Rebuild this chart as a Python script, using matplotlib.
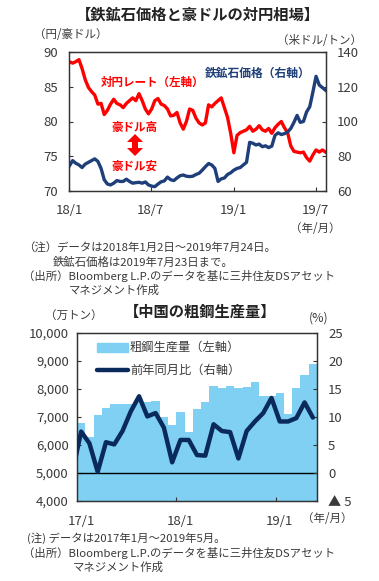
'''
Iron ore vs AUD/JPY, and China crude steel production
'''
import numpy as np
import pandas as pd
import matplotlib
matplotlib.use("Agg")
import matplotlib.pyplot as plt
from matplotlib.transforms import Affine2D

plt.rcParams['font.family'] = ['Noto Sans CJK JP', 'DejaVu Sans']

# ---- top chart data (weekly readings, 2018/1/2 - 2019/7/23) ----
week_start = "2018-01-02"
aud_jpy = [88.6, 88.4, 88.6, 88.9, 87.6, 86.0, 84.9, 84.3, 83.8, 82.5,
           82.6, 81.0, 81.6, 82.5, 83.2, 82.6, 82.4, 82.0, 82.6, 83.0,
           83.4, 83.0, 84.0, 83.0, 81.8, 81.1, 81.8, 83.0, 83.3, 82.5,
           82.3, 81.8, 80.8, 80.9, 81.3, 79.8, 78.9, 80.0, 81.8, 81.6,
           80.5, 79.8, 79.5, 79.8, 82.4, 82.1, 82.6, 83.0, 83.4, 82.0,
           80.6, 78.3, 75.5, 78.0, 78.4, 78.6, 78.8, 79.3, 78.6, 78.9,
           79.4, 78.8, 78.6, 79.0, 78.3, 79.1, 79.6, 80.0, 79.1, 78.4,
           76.5, 75.7, 75.6, 75.5, 75.6, 74.8, 74.3, 75.2, 75.9, 75.6,
           75.9, 75.6]
iron_ore = [74.5, 77.5, 76.0, 75.0, 73.5, 75.5, 76.5, 77.5, 78.5, 77.0,
            73.0, 66.5, 64.0, 63.5, 64.5, 66.0, 65.5, 65.5, 66.8, 65.5,
            64.5, 64.8, 65.0, 64.5, 65.2, 63.5, 62.8, 62.5, 64.0, 65.3,
            65.8, 68.0, 66.5, 66.0, 67.5, 68.8, 69.2, 68.5, 68.3, 68.5,
            69.5, 70.2, 72.0, 74.0, 75.8, 75.0, 73.0, 65.5, 67.0, 67.5,
            69.5, 70.5, 72.0, 73.0, 73.5, 75.0, 76.5, 88.0, 87.5, 86.5,
            87.0, 85.5, 86.0, 85.0, 85.8, 92.0, 93.5, 92.5, 93.0, 94.0,
            96.0, 99.5, 103.5, 99.5, 100.0, 105.5, 108.5, 117.0, 126.0, 121.0,
            119.5, 118.0]
top_xticks = ["2018-01-01", "2018-07-01", "2019-01-01", "2019-07-01"]
top_xlabels = ["18/1", "18/7", "19/1", "19/7"]

# ---- bottom chart data (monthly, 2017/1 - 2019/5) ----
steel = [6780, 6290, 7070, 7310, 7450, 7450, 7470, 7550, 7530, 7570,
         7010, 6710, 7170, 6480, 7280, 7530, 8100, 8030, 8100, 8040,
         8080, 8240, 7760, 7760, 7850, 7100, 8030, 8500, 8900]
# first value is 2016/12 (only its segment into the plot shows)
yoy = [0.5, 7.4, 5.3, 0.2, 5.5, 5.1, 7.5, 11.0, 13.7, 10.1, 10.7,
       8.1, 1.9, 5.9, 5.9, 3.2, 3.1, 8.7, 7.5, 7.3, 2.6,
       7.5, 9.2, 10.7, 13.4, 9.2, 9.2, 9.8, 12.6, 9.9]
bot_xlabels = ["17/1", "18/1", "19/1"]

TXT = '#3a3a3a'
RED = '#ff0000'
NAVY = '#1f3f7a'
BAR = '#7fd0f2'
LINE = '#0b2a5c'

W, H = 379, 581
fig = plt.figure(figsize=(W / 100, H / 100), dpi=100)
# pixel coords measured from the top-left corner
pix = Affine2D().scale(1, -1).translate(0, H).scale(1 / W, 1 / H) + fig.transFigure


def fx(x):
    return x / W


def fy(y):
    return 1 - y / H


def axrect(l, t, r, b):
    return [fx(l), fy(b), fx(r) - fx(l), fy(t) - fy(b)]


# ================= top chart =================
ax = fig.add_axes(axrect(69, 52, 326, 191))
ax2 = ax.twinx()
dates = pd.date_range(week_start, periods=len(aud_jpy), freq="7D")

ax.plot(dates, aud_jpy, color=RED, lw=2.4, solid_joinstyle='round')
ax2.plot(dates, iron_ore, color=NAVY, lw=2.4, solid_joinstyle='round')

ax.set_xlim(pd.Timestamp("2018-01-01"), pd.Timestamp("2019-07-24"))
ax.set_ylim(70, 90)
ax2.set_ylim(60, 140)
ax.set_yticks([70, 75, 80, 85, 90])
ax2.set_yticks([60, 80, 100, 120, 140])
ax.set_xticks(pd.to_datetime(top_xticks))
ax.set_xticklabels(top_xlabels)
for a in (ax, ax2):
    a.tick_params(direction='in', length=3, width=0.8, labelsize=9.5,
                  labelcolor=TXT, color='#333333')
    for s in a.spines.values():
        s.set_color('#333333')
        s.set_linewidth(0.9)
ax.tick_params(axis='x', pad=9)
ax.tick_params(axis='y', pad=8)
ax2.tick_params(axis='y', pad=8)

fig.text(fx(198), fy(15), "【鉄鉱石価格と豪ドルの対円相場】", ha='center', va='center',
         fontsize=11, fontweight='bold', color='#222222')
fig.text(fx(34), fy(35), "（円/豪ドル）", ha='left', va='center', fontsize=8.3, color=TXT)
fig.text(fx(362), fy(40), "（米ドル/トン）", ha='right', va='center', fontsize=8.3, color=TXT)
fig.text(fx(101), fy(82), "対円レート（左軸）", ha='left', va='center',
         fontsize=8.3, fontweight='bold', color=RED)
fig.text(fx(205), fy(73), "鉄鉱石価格（右軸）", ha='left', va='center',
         fontsize=8.5, fontweight='bold', color=NAVY)
fig.text(fx(134), fy(127), "豪ドル高", ha='center', va='center',
         fontsize=8.3, fontweight='bold', color=RED)
fig.text(fx(134), fy(166), "豪ドル安", ha='center', va='center',
         fontsize=8.3, fontweight='bold', color=RED)
# up/down double arrow
arrow = [(135, 134), (143, 142), (138, 142), (138, 148), (143, 148),
         (135, 156), (127, 148), (132, 148), (132, 142), (127, 142)]
fig.patches.append(matplotlib.patches.Polygon(arrow, closed=True, transform=pix,
                                              color=RED, lw=0))
fig.text(fx(341), fy(228), "（年/月）", ha='right', va='center', fontsize=8.3, color=TXT)

fig.text(fx(23), fy(247), "（注）データは2018年1月2日～2019年7月24日。",
         ha='left', va='center', fontsize=8.2, color=TXT)
fig.text(fx(53), fy(262), "鉄鉱石価格は2019年7月23日まで。",
         ha='left', va='center', fontsize=8.2, color=TXT)
fig.text(fx(23), fy(276), "（出所）Bloomberg L.P.のデータを基に三井住友DSアセット",
         ha='left', va='center', fontsize=8.2, color=TXT)
fig.text(fx(69), fy(290), "マネジメント作成",
         ha='left', va='center', fontsize=8.2, color=TXT)

# ================= bottom chart =================
bx = fig.add_axes(axrect(77, 333, 317, 501))
bx2 = bx.twinx()
pos = np.arange(len(steel))
bx.bar(pos, steel, width=1.0, color=BAR, edgecolor='none', zorder=1)
bx.axhline(5000, color='black', lw=1.0, zorder=2)
bx.set_xlim(-0.5, len(steel) - 0.5)
bx.set_ylim(4000, 10000)
bx.set_yticks(np.arange(4000, 10001, 1000))
bx.set_yticklabels([f"{v:,}" for v in range(4000, 10001, 1000)])
bx2.plot(np.arange(-1, len(yoy) - 1), yoy, color=LINE, lw=3.2,
         solid_joinstyle='round', solid_capstyle='round', zorder=3)
bx2.set_ylim(-5, 25)
bx2.set_yticks([-5, 0, 5, 10, 15, 20, 25])
bx2.set_yticklabels(["▲ 5", "0", "5", "10", "15", "20", "25"])
bx2.set_xlim(-0.5, len(steel) - 0.5)

bx.set_xticks([11.5, 23.5])
bx.set_xticklabels([])
bx.set_xticks([0, 12, 24], minor=True)
bx.set_xticklabels(bot_xlabels, minor=True)
bx.tick_params(axis='x', which='minor', length=0, pad=10, labelsize=9.5, labelcolor=TXT)
for a in (bx, bx2):
    a.tick_params(which='major', direction='in', length=3, width=0.8, labelsize=9.5,
                  labelcolor=TXT, color='#333333')
    for s in a.spines.values():
        s.set_color('#333333')
        s.set_linewidth(0.9)
bx.tick_params(axis='y', pad=6)
bx2.tick_params(axis='y', pad=8)

# legend drawn by hand as in the source
fig.patches.append(matplotlib.patches.Rectangle(
    (97, 352), 31, -9, transform=pix, color=BAR))
fig.lines.append(matplotlib.lines.Line2D(
    [97, 128], [370, 370], transform=pix,
    color=LINE, lw=3.2, solid_capstyle='round'))
fig.text(fx(130), fy(347), "粗鋼生産量（左軸）", ha='left', va='center', fontsize=8.8, color=TXT)
fig.text(fx(130), fy(370), "前年同月比（右軸）", ha='left', va='center', fontsize=8.8, color=TXT)

fig.text(fx(200), fy(312), "【中国の粗鋼生産量】", ha='center', va='center',
         fontsize=11, fontweight='bold', color='#222222')
fig.text(fx(45), fy(315), "（万トン）", ha='left', va='center', fontsize=8.3, color=TXT)
fig.text(fx(328), fy(318), "(%)", ha='right', va='center', fontsize=8.8, color=TXT)
fig.text(fx(353), fy(518), "（年/月）", ha='right', va='center', fontsize=8.3, color=TXT)

fig.text(fx(27), fy(538), "(注) データは2017年1月～2019年5月。",
         ha='left', va='center', fontsize=8.2, color=TXT)
fig.text(fx(23), fy(553), "（出所）Bloomberg L.P.のデータを基に三井住友DSアセット",
         ha='left', va='center', fontsize=8.2, color=TXT)
fig.text(fx(73), fy(567), "マネジメント作成",
         ha='left', va='center', fontsize=8.2, color=TXT)

fig.savefig("out.png", dpi=100)
